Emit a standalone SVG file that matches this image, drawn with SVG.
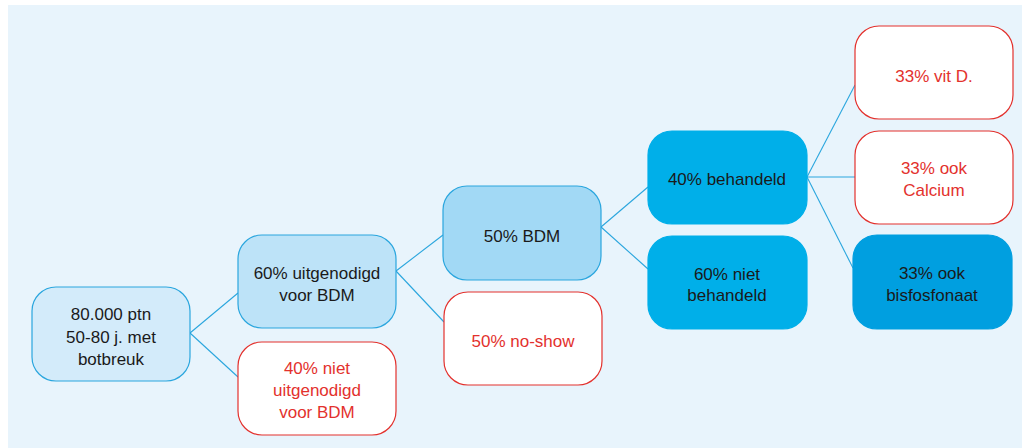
<svg xmlns="http://www.w3.org/2000/svg" width="1022" height="448" viewBox="0 0 1022 448">
<style>
.bg{fill:#e8f4fc}
.n rect{stroke-width:1.2}
.b1{fill:#d3ebfa;stroke:#2aa6de}
.b2{fill:#bde3f8;stroke:#2aa6de}
.b3{fill:#a2d9f5;stroke:#2aa6de}
.b4{fill:#00afe9;stroke:#00afe9}
.b5{fill:#009fe0;stroke:#009fe0}
.r{fill:#ffffff;stroke:#e3312d}
text{font-family:"Liberation Sans",Arial,sans-serif;font-size:17px;text-anchor:middle;fill:#1a1a1a}
text.red{fill:#e3312d}
.c line{stroke:#2aa6de;stroke-width:1.1}
</style>
<rect x="0" y="0" width="1022" height="448" fill="#ffffff"/>
<rect class="bg" x="8" y="5" width="1014" height="443"/>
<g class="c" id="connectors">
<line x1="190" y1="333" x2="238" y2="293"/>
<line x1="190" y1="333" x2="238" y2="377"/>
<line x1="396" y1="271" x2="443" y2="235"/>
<line x1="396" y1="271" x2="444" y2="322"/>
<line x1="601" y1="227" x2="648" y2="187"/>
<line x1="601" y1="227" x2="648" y2="269"/>
<line x1="807" y1="177" x2="855" y2="85"/>
<line x1="807" y1="177" x2="855" y2="177"/>
<line x1="807" y1="177" x2="853" y2="268"/>
</g>
<g class="n" id="n1"><rect class="b1" x="32" y="287" width="158" height="94" rx="24"/>
<text x="111" y="320">80.000 ptn</text><text x="111" y="343">50-80 j. met</text><text x="111" y="365">botbreuk</text></g>
<g class="n" id="n2"><rect class="b2" x="238" y="235" width="158" height="93" rx="24"/>
<text x="317" y="279">60% uitgenodigd</text><text x="317" y="301">voor BDM</text></g>
<g class="n" id="n3"><rect class="r" x="238" y="342" width="158" height="93" rx="24"/>
<text class="red" x="317" y="374">40% niet</text><text class="red" x="317" y="396">uitgenodigd</text><text class="red" x="317" y="418">voor BDM</text></g>
<g class="n" id="n4"><rect class="b3" x="443" y="186" width="158" height="94" rx="24"/>
<text x="522" y="242">50% BDM</text></g>
<g class="n" id="n5"><rect class="r" x="444" y="292" width="158" height="93" rx="24"/>
<text class="red" x="523" y="347">50% no-show</text></g>
<g class="n" id="n6"><rect class="b4" x="648" y="131" width="159" height="93" rx="24"/>
<text x="727" y="185">40% behandeld</text></g>
<g class="n" id="n7"><rect class="b4" x="648" y="236" width="159" height="93" rx="24"/>
<text x="727" y="280">60% niet</text><text x="727" y="301">behandeld</text></g>
<g class="n" id="n8"><rect class="r" x="855" y="26" width="158" height="93" rx="24"/>
<text class="red" x="934" y="82">33% vit D.</text></g>
<g class="n" id="n9"><rect class="r" x="855" y="131" width="158" height="93" rx="24"/>
<text class="red" x="934" y="174">33% ook</text><text class="red" x="934" y="196">Calcium</text></g>
<g class="n" id="n10"><rect class="b5" x="853" y="235" width="159" height="94" rx="24"/>
<text x="932" y="279">33% ook</text><text x="932" y="301">bisfosfonaat</text></g>
</svg>
